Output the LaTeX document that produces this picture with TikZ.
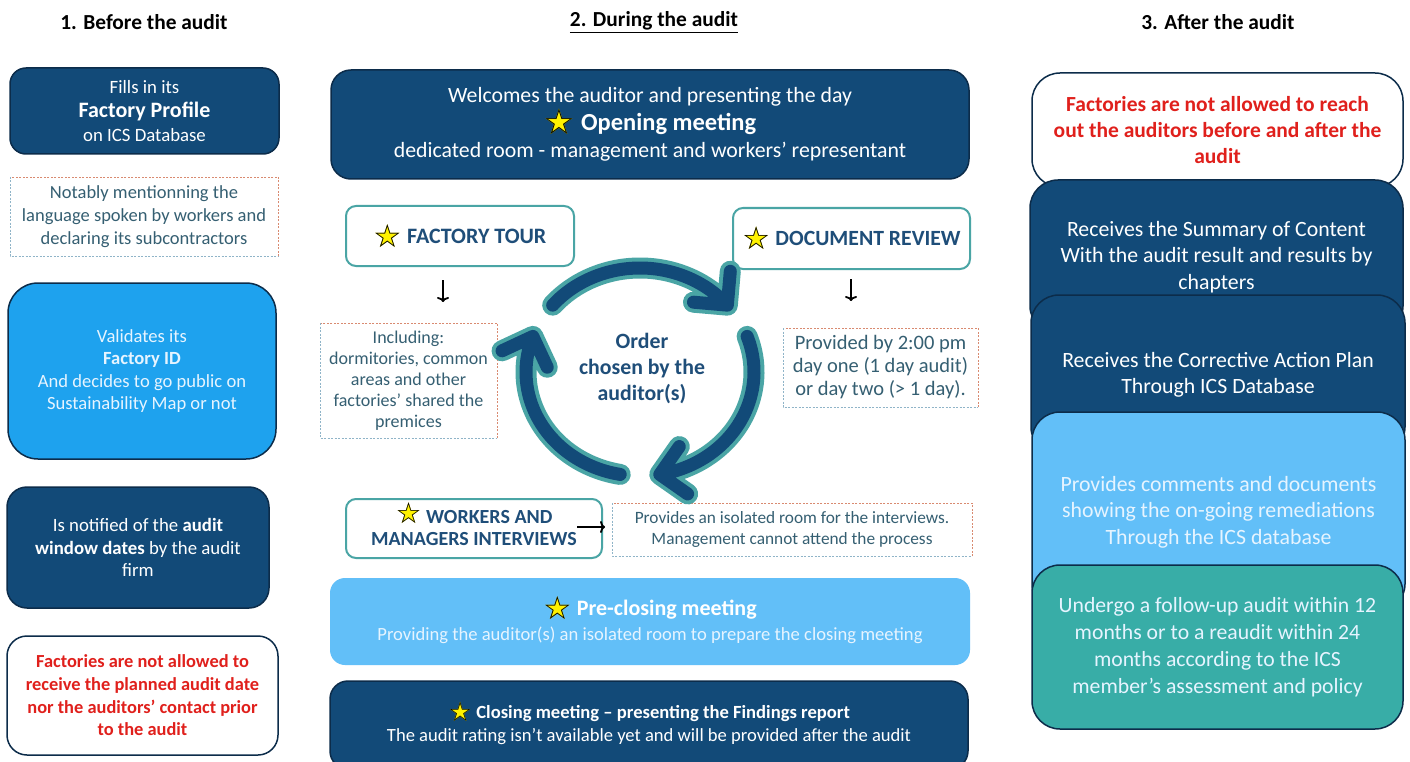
\documentclass[tikz,border=0pt]{standalone}
\usepackage{fontspec}
\setmainfont{Carlito}
\newfontfamily\symfont{DejaVu Sans}
\usetikzlibrary{arrows.meta}

\definecolor{navy}{HTML}{124A78}
\definecolor{navyline}{HTML}{0C2C4A}
\definecolor{skyblue}{HTML}{1EA2EE}
\definecolor{paleblue}{HTML}{62BFF8}
\definecolor{tealfill}{HTML}{38ADA7}
\definecolor{tealline}{HTML}{4AA5A5}
\definecolor{inkblue}{HTML}{1F4E79}
\definecolor{notetext}{HTML}{355F72}
\definecolor{alertred}{HTML}{E0201C}
\definecolor{dashred}{HTML}{D98A70}
\definecolor{dashblue}{HTML}{8FB4C8}
\definecolor{lighttext}{HTML}{E6F4FF}

\newcommand{\sz}[2]{\fontsize{#1}{#2}\selectfont}
\newcommand{\ystar}[1][-0.18em]{\smash{\raisebox{#1}{\scalebox{1.45}{\symfont\bfseries\rlap{\textcolor{yellow}{★}}\textcolor{black}{☆}}}}}

\begin{document}
\begin{tikzpicture}[x=1pt,y=-1pt,
  every node/.style={inner sep=0pt,outer sep=0pt},
  head/.style={font=\bfseries\sz{21.4}{24}},
  navybox/.style={draw=navyline,line width=1.5pt,fill=navy,text=white,align=center,rounded corners=#1},
  navybox/.default=16pt,
  whitebox/.style={draw=navyline,line width=1.5pt,fill=white,text=alertred,align=center,rounded corners=#1,font=\bfseries\sz{18.4}{22.7}},
  whitebox/.default=18pt,
  stagebox/.style={draw=tealline,line width=2pt,fill=white,rounded corners=10pt,text=inkblue,align=center,font=\bfseries},
  notebox/.style={text=notetext,align=center},
  dashtop/.style={draw=dashred,line width=0.9pt,dash pattern=on 2pt off 1.5pt},
  dashbot/.style={draw=dashblue,line width=0.9pt,dash pattern=on 2pt off 1.5pt},
  glyph/.style={line width=1.8pt,-{To[length=5pt,width=12pt]}},
  cyclerim/.style={draw=tealline,line width=21pt,line cap=round,line join=round},
  cyclecore/.style={draw=navy,line width=13pt,line cap=round,line join=round}]
  \useasboundingbox (0,0) rectangle (1410,762);
  \clip (0,0) rectangle (1410,762);
  \fill[white] (0,0) rectangle (1410,762);

  % column titles
  \node[head] (h1) at (144,22) {1. Before the audit};
  \node[head] (h2) at (654,22) {\underline{2. During the audit}};
  \node[head] (h3) at (1218,22) {3. After the audit};

  % 1. Before the audit
  \node[navybox, minimum width=269, minimum height=86, font=\sz{18.8}{24}] (profile) at (144.5,111)
    {Fills in its\\{\bfseries\sz{22}{24}Factory Profile}\\on ICS Database};
  \node[notebox, minimum width=268, minimum height=79, font=\sz{18.5}{23}] (mention) at (144,216.5)
    {Notably mentionning the\\language spoken by workers and\\declaring its subcontractors};
  \draw[dashtop] (mention.south east) |- (mention.north west);
  \draw[dashbot] (mention.north west) |- (mention.south east);
  \node[navybox=30pt, fill=skyblue, text=lighttext, minimum width=268, minimum height=176, font=\sz{18.6}{22.5}] (factid) at (142,371)
    {Validates its\\{\bfseries Factory ID}\\And decides to go public on\\Sustainability Map or not};
  \node[navybox=20pt, minimum width=262, minimum height=121, font=\sz{18.8}{22.5}] (window) at (138,547.5)
    {Is notified of the {\bfseries audit}\\{\bfseries window dates} by the audit\\firm};
  \node[whitebox=20pt, minimum width=271, minimum height=119] (nodate) at (142.5,695.5)
    {Factories are not allowed to\\receive the planned audit date\\nor the auditors’ contact prior\\to the audit};

  % 2. During the audit
  \node[navybox=20pt, minimum width=638, minimum height=109, font=\sz{21.8}{27.5}] (opening) at (650,124.5)
    {Welcomes the auditor and presenting the day\\{\bfseries\sz{24.5}{27.5}\ystar\ Opening meeting}\\dedicated room - management and workers’ representant};
  \node[stagebox, minimum width=228, minimum height=60, font=\bfseries\sz{22}{24}] (tour) at (460,236)
    {\ystar\ FACTORY TOUR};
  \node[stagebox, minimum width=237, minimum height=61, font=\bfseries\sz{21.7}{24}] (review) at (851.5,238.5)
    {\ystar\ DOCUMENT REVIEW};
  \node[notebox, minimum width=177, minimum height=115, font=\sz{18}{21}] (premises) at (408.5,380.5)
    {Including:\\dormitories, common\\areas and other\\factories’ shared the\\premices};
  \draw[dashtop] (premises.south east) |- (premises.north west);
  \draw[dashbot] (premises.north west) |- (premises.south east);
  \node[notebox, minimum width=195, minimum height=79, font=\sz{20.5}{23}] (deadline) at (880.5,367.5)
    {Provided by 2:00 pm\\day one (1 day audit)\\or day two (> 1 day).};
  \draw[dashtop] (deadline.south east) |- (deadline.north west);
  \draw[dashbot] (deadline.north west) |- (deadline.south east);
  \node[text=inkblue, align=center, font=\bfseries\sz{21.8}{26}] (order) at (642,368)
    {Order\\chosen by the\\auditor(s)};
  \node[stagebox, minimum width=256, minimum height=59, font=\bfseries\sz{20}{22}] (interviews) at (474,528.5)
    {\ystar[0.02em]\ WORKERS AND\\MANAGERS INTERVIEWS};
  \node[notebox, minimum width=360, minimum height=53, font=\sz{17.3}{20.5}] (room) at (792,529.5)
    {Provides an isolated room for the interviews.\\Management cannot attend the process};
  \draw[dashtop] (room.south east) |- (room.north west);
  \draw[dashbot] (room.north west) |- (room.south east);
  \node[fill=paleblue, rounded corners=15pt, text=white, align=center, minimum width=640, minimum height=87, font=\sz{18.6}{25}] (preclosing) at (650,621.5)
    {{\bfseries\sz{22}{25}\ystar\ Pre-closing meeting}\\\textcolor{lighttext}{Providing the auditor(s) an isolated room to prepare the closing meeting}};
  \node[navybox=18pt, minimum width=638, minimum height=88, font=\sz{18.6}{23}] (closing) at (649,725)
    {{\bfseries\ystar\ Closing meeting – presenting the Findings report}\\The audit rating isn’t available yet and will be provided after the audit};

  % small arrows between boxes and notes
  \coordinate (tourA) at (443,280);   \coordinate (tourB) at (443,302);
  \coordinate (reviewA) at (851,279); \coordinate (reviewB) at (851,301);
  \coordinate (roomA) at (577,527);   \coordinate (roomB) at (605,527);
  \draw[glyph] (tourA) -- (tourB);
  \draw[glyph] (reviewA) -- (reviewB);
  \draw[glyph] (roomA) -- (roomB);

  % circular arrows round the order text
  \begin{scope}[shift={(640,372)},x=1pt,y=1pt]
    \foreach \a [evaluate=\a as \b using \a-100] in {140,20,-100}
      \foreach \sty in {cyclerim,cyclecore}
        \draw[\sty] (\a:114 and 104) arc[start angle=\a,end angle=\b,x radius=114,y radius=104]
          ++(\b+45:34) -- ++(\b+225:34) -- ++(\b+135:34);
  \end{scope}

  % 3. After the audit (stacked cards)
  \node[whitebox=28pt, minimum width=371, minimum height=114, font=\bfseries\sz{21.5}{26}] (contact) at (1217.5,130)
    {Factories are not allowed to reach\\out the auditors before and after the\\audit};
  \node[navybox=28pt, minimum width=373, minimum height=154, font=\sz{21.8}{26.5}] (summary) at (1216.5,257)
    {Receives the Summary of Content\\With the audit result and results by\\chapters};
  \node[navybox=28pt, minimum width=374, minimum height=160, font=\sz{21.8}{26.5}] (cap) at (1218,375)
    {Receives the Corrective Action Plan\\Through ICS Database};
  \node[navybox=28pt, fill=paleblue, text=lighttext, minimum width=373, minimum height=200, font=\sz{21.8}{26.5}] (remediation) at (1218.5,512)
    {Provides comments and documents\\showing the on-going remediations\\Through the ICS database};
  \node[navybox=28pt, fill=tealfill, text=lighttext, minimum width=371, minimum height=164, font=\sz{21.7}{27}] (followup) at (1217.5,647)
    {Undergo a follow-up audit within 12\\months or to a reaudit within 24\\months according to the ICS\\member’s assessment and policy};
\end{tikzpicture}
\end{document}
